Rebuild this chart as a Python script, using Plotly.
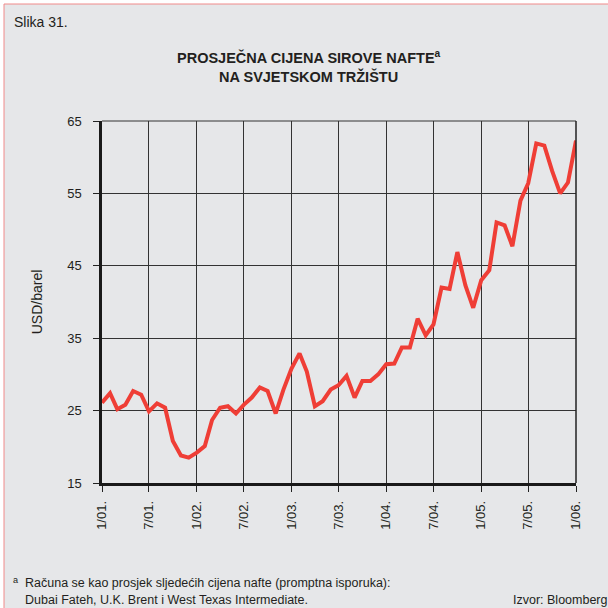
import pandas as pd
import plotly.graph_objects as go

# ---- data ----
months = pd.date_range("2001-01-01", periods=61, freq="MS")
price = [26.1, 27.4, 25.2, 25.8, 27.7, 27.2, 24.9, 26.0, 25.4, 20.8, 18.8, 18.5,
         19.2, 20.1, 23.7, 25.4, 25.6, 24.6, 25.8, 26.8, 28.2, 27.7, 24.6, 27.9,
         30.8, 32.9, 30.4, 25.6, 26.3, 27.9, 28.5, 29.8, 26.8, 29.1, 29.1, 30.0,
         31.4, 31.5, 33.7, 33.7, 37.7, 35.4, 36.9, 42.0, 41.8, 46.9, 42.3, 39.2,
         43.0, 44.4, 51.0, 50.6, 47.7, 54.0, 56.4, 61.9, 61.6, 58.1, 55.0, 56.5,
         62.3]
tick_dates = ["2001-01-01", "2001-07-01", "2002-01-01", "2002-07-01", "2003-01-01",
              "2003-07-01", "2004-01-01", "2004-07-01", "2005-01-01", "2005-07-01",
              "2006-01-01"]
tick_labels = ["1/01.", "7/01.", "1/02.", "7/02.", "1/03.", "7/03.", "1/04.",
               "7/04.", "1/05.", "7/05.", "1/06."]
y_ticks = [15, 25, 35, 45, 55, 65]

# ---- layout geometry (pixels) ----
W, H = 608, 608
L, R, T, B = 102, 576, 121, 483
pw, ph = R - L, B - T


def px(x):
    return (x - L) / pw


def py(y):
    return (B - y) / ph


FONT = "Liberation Sans, Arial, Helvetica, sans-serif"
BG = "#e6e7e9"
TXT = "#231f20"

fig = go.Figure()
fig.add_trace(go.Scatter(x=months, y=price, mode="lines",
                         line=dict(color="#ef3e36", width=4),
                         hoverinfo="skip", showlegend=False))

fig.update_layout(
    width=W, height=H,
    margin=dict(l=L, r=W - R, t=T, b=H - B, pad=0),
    paper_bgcolor="white",
    plot_bgcolor="rgba(0,0,0,0)",
    font=dict(family=FONT, color=TXT, size=13),
    showlegend=False,
)

fig.update_xaxes(
    range=[tick_dates[0], tick_dates[-1]],
    tickvals=tick_dates, ticktext=tick_labels, tickangle=-90,
    ticks="outside", ticklen=6, tickcolor="#222", tickwidth=1,
    ticklabelstandoff=4,
    showgrid=True, gridcolor="#333", gridwidth=1,
    showline=True, linecolor="#1a1a1a", linewidth=2.5,
    tickfont=dict(size=13, color=TXT, family=FONT),
    zeroline=False,
)
fig.update_yaxes(
    range=[15, 65], tickvals=y_ticks,
    ticks="outside", ticklen=6, tickcolor="#222", tickwidth=1,
    ticklabelstandoff=9,
    showgrid=True, gridcolor="#333", gridwidth=1,
    showline=True, linecolor="#1a1a1a", linewidth=2.5,
    tickfont=dict(size=13, color=TXT, family=FONT),
    title=dict(text="USD/barel", font=dict(size=14, color=TXT, family=FONT), standoff=22),
    zeroline=False,
)

# background panel with red border
fig.add_shape(type="rect", xref="paper", yref="paper",
              x0=px(4), x1=px(700), y0=py(4), y1=py(700),
              fillcolor=BG, line=dict(color="#f08a8a", width=1), layer="below")
# top and right frame lines
fig.add_shape(type="line", xref="paper", yref="paper", x0=0, x1=1, y0=1, y1=1,
              line=dict(color="#333", width=1))
fig.add_shape(type="line", xref="paper", yref="paper", x0=1, x1=1, y0=0, y1=1,
              line=dict(color="#222", width=1.5))

ann = []
ann.append(dict(text="Slika 31.", x=px(12), y=py(22), xanchor="left", yanchor="middle",
                font=dict(size=14)))
ann.append(dict(text="<b>PROSJEČNA CIJENA SIROVE NAFTE<sup>a</sup><br>NA SVJETSKOM TRŽIŠTU</b>",
                x=px(309), y=py(66), xanchor="center", yanchor="middle",
                font=dict(size=14.5)))
ann.append(dict(text="<sup>a</sup>", x=px(11), y=py(580), xanchor="left", yanchor="middle",
                font=dict(size=13)))
ann.append(dict(text="Računa se kao prosjek sljedećih cijena nafte (promptna isporuka):",
                x=px(23), y=py(583), xanchor="left", yanchor="middle", font=dict(size=12.5)))
ann.append(dict(text="Dubai Fateh, U.K. Brent i West Texas Intermediate.",
                x=px(23), y=py(600), xanchor="left", yanchor="middle", font=dict(size=12.5)))
ann.append(dict(text="Izvor: Bloomberg", x=px(511), y=py(600), xanchor="left",
                yanchor="middle", font=dict(size=12.5)))
for a in ann:
    a.update(xref="paper", yref="paper", showarrow=False)
    fig.add_annotation(**a)

fig.write_html("out.html", config={"displayModeBar": False, "displaylogo": False},
               post_script="document.body.style.margin='0px';")
